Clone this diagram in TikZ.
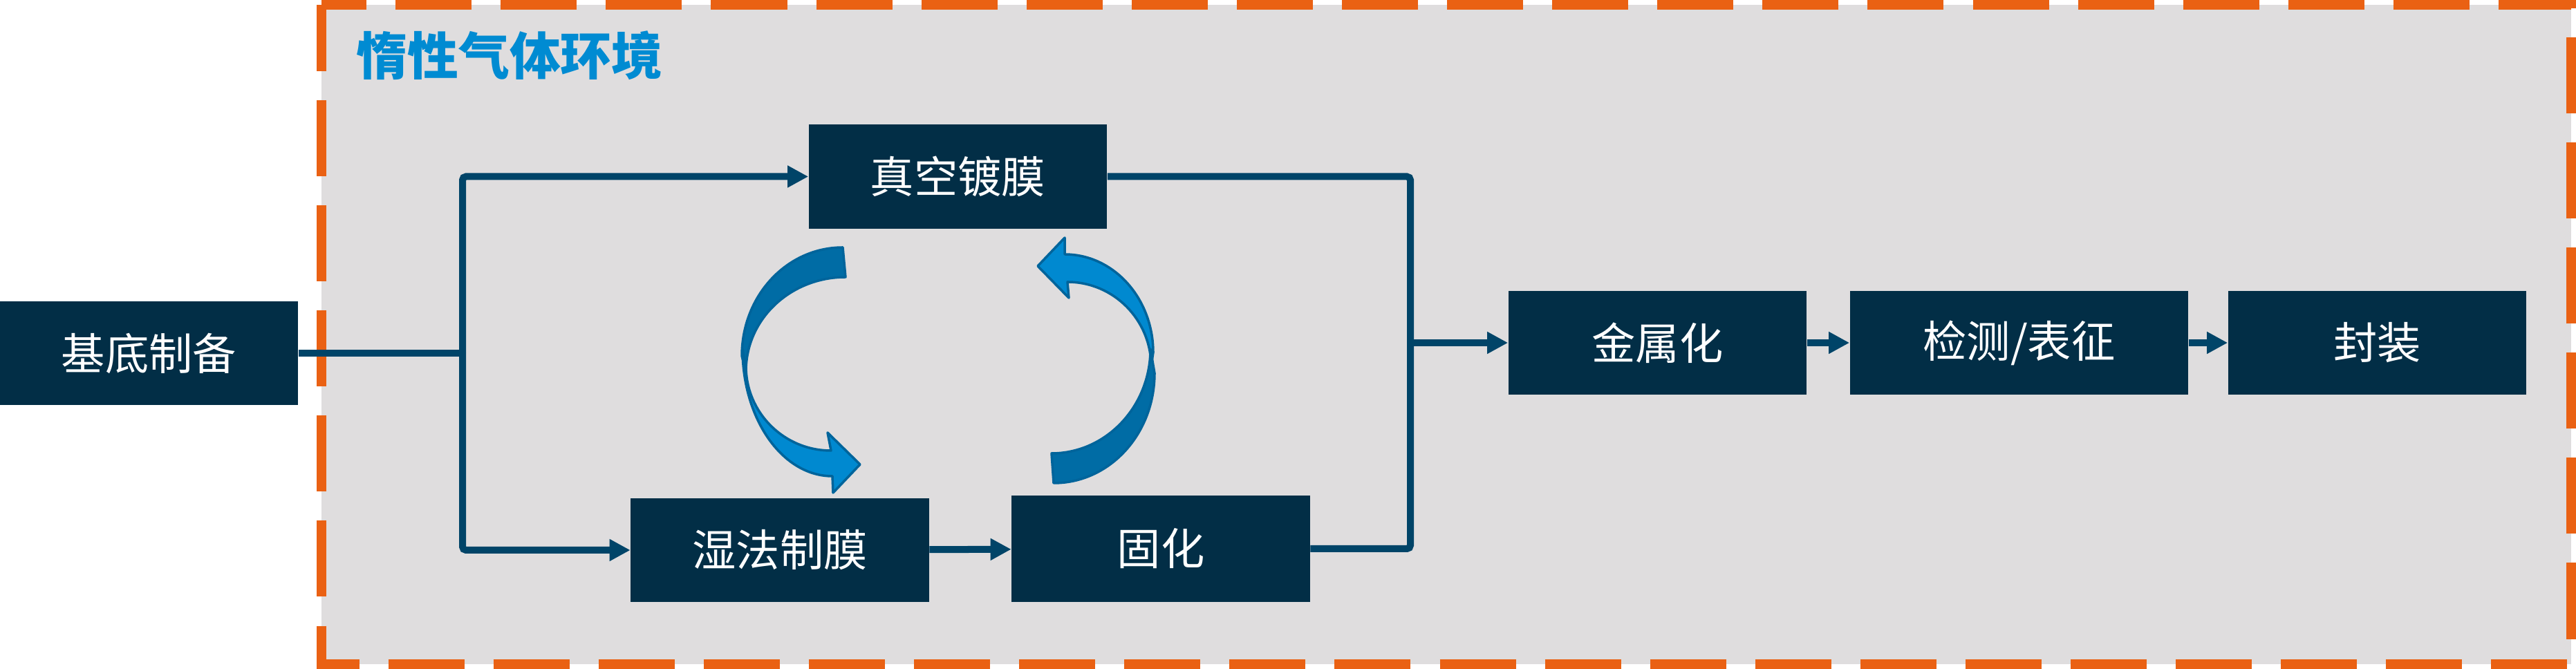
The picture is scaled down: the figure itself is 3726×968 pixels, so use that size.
\documentclass[tikz,border=0pt]{standalone}
\usepackage{fontspec}
\setmainfont{Noto Sans CJK SC}
\usetikzlibrary{arrows.meta}
\definecolor{boxnavy}{RGB}{2,46,70}
\definecolor{linkblue}{RGB}{0,68,104}
\definecolor{gasorange}{RGB}{234,97,19}
\definecolor{roomgray}{RGB}{223,221,222}
\definecolor{titleblue}{RGB}{0,139,210}
\definecolor{loopdark}{RGB}{0,108,165}
\definecolor{looplight}{RGB}{0,137,208}
\definecolor{loopedge}{RGB}{0,100,155}
\begin{document}
\begin{tikzpicture}[x=0.01cm, y=-0.01cm,
    procbox/.style={fill=boxnavy, text=white, inner sep=0pt, minimum width=4.31cm, minimum height=1.5cm, font=\fontsize{18pt}{18pt}\selectfont},
    link/.style={draw=linkblue, line width=0.1cm},
    linkarrow/.style={link, -{Triangle[length=0.3cm, width=0.3cm]}},
    loopdark/.style={fill=loopdark, draw=loopedge, line width=0.035cm, line join=round},
    looplight/.style={fill=looplight, draw=loopedge, line width=0.035cm, line join=round}]
\useasboundingbox (0,0) rectangle (3726,968);
\draw[fill=roomgray, draw=gasorange, line width=0.14cm, dash pattern=on 1.1cm off 0.42cm, dash phase=0.14cm] (465,7) rectangle (3719,961);
\node[text=titleblue, font=\fontsize{21pt}{21pt}\selectfont\bfseries] (envtitle) at (737,80) {惰性气体环境};
\node[procbox] (base) at (215.5,511) {基底制备};
\node[procbox] (vac) at (1385.5,255.5) {真空镀膜};
\node[procbox] (wet) at (1128,796) {湿法制膜};
\node[procbox, minimum height=1.54cm] (cure) at (1679,794) {固化};
\node[procbox] (metal) at (2397.5,496) {金属化};
\node[procbox, minimum width=4.89cm] (test) at (2920.5,496) {检测/表征};
\node[procbox] (pack) at (3438.5,496) {封装};
\coordinate (split) at (669,511);
\coordinate (merge) at (2040,496);
\draw[link] (base.east) -- (split);
\draw[linkarrow, rounded corners=0.05cm] (split) |- (vac.west);
\draw[linkarrow, rounded corners=0.05cm] (split) |- (wet.west);
\draw[linkarrow] (wet) -- (cure);
\draw[link, rounded corners=0.05cm] (vac.east) -| (merge);
\draw[link, rounded corners=0.05cm] (cure.east) -| (merge);
\draw[linkarrow] (merge) -- (metal.west);
\draw[linkarrow] (metal) -- (test);
\draw[linkarrow] (test) -- (pack);
\draw[loopdark] (1219,358) .. controls (1138,358) and (1073,428) .. (1073,515) -- (1079,537) .. controls (1079,461) and (1144,401) .. (1223,401) -- cycle;
\draw[looplight] (1074,505) .. controls (1074,607) and (1132,689) .. (1204,689) -- (1205,713) -- (1244,672) -- (1197,626) -- (1202,652) .. controls (1134,652) and (1079,597) .. (1079,530) -- cycle;
\draw[looplight] (1540,368) .. controls (1611,368) and (1668,432) .. (1668,510) -- (1665,530) .. controls (1665,463) and (1611,408) .. (1544,408) -- (1546,431) -- (1501,385) -- (1540,344) -- cycle;
\draw[loopdark] (1664,505) .. controls (1664,588) and (1600,656) .. (1521,656) -- (1524,699) .. controls (1605,699) and (1670,628) .. (1670,540) -- cycle;
\end{tikzpicture}
\end{document}
